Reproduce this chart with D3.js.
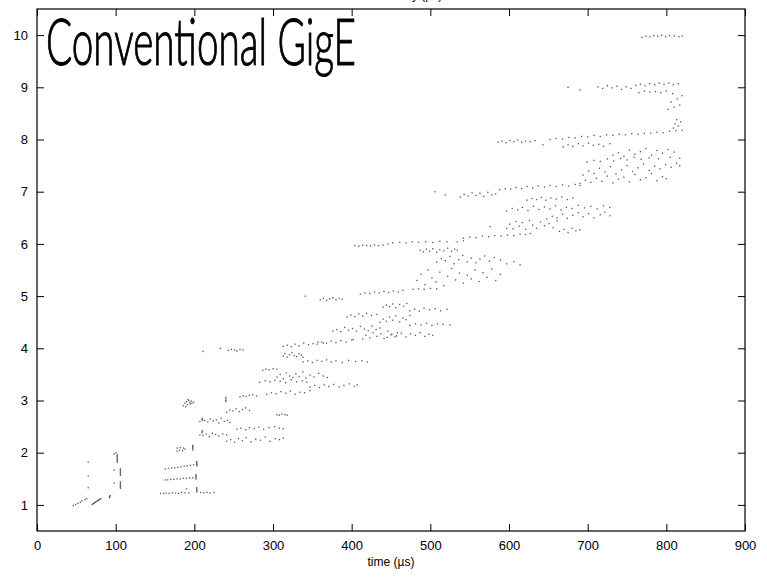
<!DOCTYPE html>
<html><head><meta charset="utf-8">
<script src="https://cdn.jsdelivr.net/npm/d3@7"></script>
<style>body{margin:0;background:#fff}svg{display:block}</style>
</head><body>
<script>
const xTicks=[0,100,200,300,400,500,600,700,800,900];
const yTicks=[1,2,3,4,5,6,7,8,9,10];
const xLabel="time (µs)";
const topLabel="latency (µs)";
const title="Conventional GigE";

const ptsA=[[46,0.99],[49,1.01],[52,1.03],[55,1.05],[57,1.08],[61,1.1],[63,1.12],
[70,1.01],[71,1.02],[72,1.03],[73,1.04],[74,1.05],[75,1.06],[76,1.07],[77,1.08],[78,1.09],[79,1.1],[80,1.11],[81,1.12],
[92,1.14],[92.5,1.16],[93,1.18],[65,1.33],[65,1.55],[65,1.82],
[98,1.98],[100.5,2.0],[102,1.96],[102,1.94],[102,1.92],[102,1.9],[102,1.88],[102,1.86],[102,1.84],[102,1.82],
[98,1.67],[106,1.69],[106,1.67],[106,1.65],[106,1.63],[106,1.61],[106,1.59],[106,1.57],
[98,1.42],[106,1.44],[106,1.42],[106,1.4],[106,1.38],[106,1.36],[106,1.34],[106,1.32]];

const ptsB=[[157,1.22],[161,1.22],[164,1.23],[168,1.22],[172,1.23],[176,1.23],[180,1.22],[184,1.24],[188,1.23],[193,1.23],[208,1.24],[212,1.23],[216,1.24],[220,1.23],[225,1.24],[190,1.31],
[203,1.25],[203,1.27],[203,1.29],[203,1.31],[203,1.33],
[163,1.48],[166,1.48],[170,1.49],[174,1.49],[178,1.5],[182,1.5],[186,1.51],[190,1.51],[194,1.52],[198,1.52],
[202,1.5],[202,1.52],[202,1.54],[202,1.56],[202,1.58],
[163,1.69],[167,1.7],[171,1.71],[175,1.71],[179,1.72],[183,1.73],[187,1.74],[191,1.75],[195,1.76],[199,1.77],
[203,1.75],[203,1.77],[203,1.79],[203,1.81],[203,1.83],
[178,2.03],[181,2.05],[185,2.04],[188,2.07],[198,2.05],[198,2.08],[198,2.1],[198,2.12]];

const ptsC=[[186,2.9],[188,2.95],[190,2.98],[191,2.92],[193,3.0],[194,2.96],[195,2.93],[196,2.99],[197,2.95],[199,2.97],[192,3.02],[189,2.88],
[240,2.98],[240,3.0],[240,3.03],[240,3.06],
[258,3.07],[262,3.09],[266,3.08],[270,3.1],[274,3.11],[279,3.09],
[210,2.62],[210,2.64],[210,2.66],[207,2.6],[213,2.62],[217,2.59],[220,2.65],[224,2.61],[228,2.63],[231,2.57],[234,2.66],[238,2.6],[242,2.62],[245,2.58],
[241,2.78],[245,2.82],[249,2.8],[253,2.84],[257,2.79],[261,2.83],[265,2.86],[270,2.81],
[305,2.73],[308,2.72],[311,2.74],[315,2.73],[318,2.72],
[254,2.45],[259,2.47],[265,2.44],[270,2.48],[276,2.46],[282,2.49],[288,2.45],[295,2.48],[302,2.5],[308,2.47],[313,2.46],
[210,2.38],[210,2.4],[210,2.42],[207,2.34],[211,2.33],[215,2.36],[219,2.31],[223,2.37],[227,2.35],[231,2.32],[236,2.36],[241,2.34],
[241,2.22],[246,2.25],[251,2.2],[256,2.27],[261,2.23],[266,2.29],[272,2.21],[278,2.26],[284,2.24],[290,2.3],[296,2.22],[303,2.27],[308,2.25],[313,2.28],
[198,2.14],[178,2.09],[182,2.1],[186,2.09]];

const ptsD=[[211,3.94],[233,4.0],[243,3.96],[247,3.98],[251,3.97],[254,3.95],[258,3.98],[262,3.97],
[287,3.58],[291,3.6],[295,3.59],[300,3.61],[305,3.6],
[313,3.85],[315,3.9],[318,3.83],[321,3.88],[324,3.92],[327,3.86],[330,3.84],[333,3.9],[336,3.87],[338,3.83],
[313,4.04],[318,4.06],[323,4.03],[328,4.08],[333,4.05],[339,4.1],[345,4.07],[351,4.09],[357,4.12],[364,4.1],
[338,3.74],[344,3.76],[350,3.73],[356,3.77],[362,3.75],[368,3.78],[374,3.74],[380,3.76],[388,3.73],[396,3.77],[405,3.75],[413,3.76],[420,3.74],
[283,3.35],[290,3.38],[296,3.36],[302,3.39],[309,3.37],[316,3.34],[323,3.4],[330,3.36],[337,3.38],[343,3.35],
[305,3.45],[309,3.5],[313,3.42],[317,3.53],[321,3.47],[325,3.44],[329,3.51],[333,3.46],[338,3.55],[342,3.43],[347,3.49],[352,3.45],[358,3.52],[364,3.47],[369,3.44],
[292,3.12],[298,3.15],[304,3.13],[310,3.17],[316,3.14],[322,3.18],[328,3.12],[334,3.16],[340,3.15],[347,3.19],
[347,3.26],[353,3.29],[359,3.25],[365,3.3],[371,3.27],[377,3.31],[384,3.26],[390,3.29],[397,3.32],[403,3.27],[407,3.3]];

const ptsE=[[356,4.08],[362,4.12],[368,4.1],[374,4.14],[380,4.11],[386,4.15],[393,4.12],[400,4.16],[402,4.17],
[376,4.33],[381,4.36],[386,4.32],[391,4.4],[396,4.35],[401,4.38],[406,4.33],[411,4.42],[416,4.37],[421,4.34],[426,4.43],[431,4.36],[436,4.39],
[414,4.18],[418,4.25],[423,4.2],[427,4.3],[432,4.23],[437,4.28],[441,4.19],[446,4.33],[450,4.26],[455,4.22],[458,4.3],
[445,4.21],[451,4.27],[457,4.24],[463,4.29],[469,4.22],[475,4.28],[481,4.25],[487,4.3],[493,4.23],[498,4.27],[503,4.25],
[474,4.44],[481,4.47],[488,4.45],[495,4.48],[502,4.44],[509,4.47],[516,4.46],[525,4.45],
[436,4.5],[440,4.56],[444,4.52],[448,4.6],[452,4.54],[456,4.62],[461,4.51],[465,4.58],[469,4.55],[474,4.63],
[394,4.6],[399,4.64],[404,4.61],[409,4.66],[414,4.62],[419,4.67],[425,4.63],[432,4.65],
[440,4.79],[444,4.83],[448,4.8],[452,4.85],[456,4.78],[461,4.84],[466,4.81],[470,4.86],
[474,4.72],[480,4.75],[486,4.71],[492,4.77],[499,4.74],[506,4.76],[513,4.72],[521,4.75],
[341,5.0],[360,4.93],[364,4.96],[368,4.92],[372,4.95],[376,4.97],[380,4.93],[384,4.96],[388,4.94],
[411,5.04],[417,5.06],[423,5.05],[429,5.08],[435,5.06],[441,5.09],[447,5.07],[453,5.1],[459,5.08],[465,5.11],
[478,5.13],[485,5.14],[492,5.13],[500,5.15],[508,5.14]];

const ptsF=[[404,5.97],[409,5.96],[414,5.98],[419,5.97],[424,5.96],[429,5.98],[434,5.97],[440,5.98],
[446,6.0],[452,6.02],[461,6.03],[469,6.02],[477,6.04],[485,6.03],[494,6.04],[503,6.03],[512,6.05],[521,6.04],[534,6.04],[542,6.06],
[542,6.11],[550,6.13],[558,6.12],[566,6.15],[574,6.14],[582,6.16],[590,6.15],[598,6.17],[606,6.16],[614,6.19],[621,6.18],[627,6.2],[576,6.33],
[487,5.88],[491,5.85],[495,5.9],[499,5.86],[503,5.91],[508,5.84],[512,5.89],[517,5.87],[522,5.92],[527,5.86],[531,5.9],[534,5.88],
[508,5.65],[514,5.72],[519,5.68],[525,5.76],[530,5.62],[536,5.7],[541,5.78],[547,5.66],[552,5.73],[558,5.64],[563,5.71],[569,5.77],[575,5.67],[581,5.74],[589,5.69],[597,5.62],[606,5.66],[614,5.6],
[483,5.3],[488,5.42],[493,5.22],[497,5.5],[502,5.35],[507,5.27],[512,5.46],[517,5.2],[522,5.38],[527,5.53],[532,5.31],[537,5.44],[542,5.25],[547,5.4],[552,5.33],[557,5.5],[562,5.28],[567,5.45],[572,5.36],[578,5.52],[583,5.3],[589,5.42]];

const ptsG=[[597,6.3],[601,6.38],[605,6.29],[609,6.43],[613,6.34],[617,6.41],[621,6.28],[626,6.45],[630,6.36],[635,6.3],[640,6.42],[645,6.35],[651,6.39],[656,6.31],[661,6.44],
[664,6.24],[670,6.28],[675,6.22],[680,6.3],[685,6.25],[690,6.27],
[648,6.48],[655,6.53],[661,6.5],[668,6.57],[674,6.49],[681,6.55],[688,6.6],[694,6.52],[701,6.58],[708,6.5],[716,6.56],[722,6.61],[728,6.54],
[597,6.63],[604,6.68],[611,6.65],[617,6.7],[624,6.64],[631,6.72],[638,6.66],[645,6.71],[652,6.67],[659,6.73],[666,6.65],[673,6.7],[680,6.68],[688,6.74],[696,6.69],[704,6.72],[712,6.67],[720,6.73],[728,6.7],
[623,6.84],[629,6.87],[635,6.85],[641,6.89],[647,6.84],[653,6.88],[660,6.86],[667,6.9],[674,6.85],[681,6.88],
[506,7.0],[519,6.94],[538,6.9],[543,6.95],[548,6.92],[553,6.98],[558,6.93],[563,6.97],[568,6.91],[573,6.99],[578,6.94],[583,6.96],
[588,7.04],[595,7.06],[602,7.05],[609,7.08],[616,7.06],[623,7.1],[630,7.07],[637,7.11],[645,7.09],[652,7.12],[660,7.1],[668,7.13],[676,7.11],[684,7.14],[690,7.12]];

const ptsH=[[690,7.16],[697,7.22],[704,7.18],[711,7.26],[718,7.2],[725,7.3],[732,7.17],[739,7.24],[746,7.28],[753,7.19],[760,7.33],[767,7.23],[774,7.27],[781,7.35],[788,7.21],[795,7.29],[800,7.25],
[694,7.32],[701,7.4],[708,7.35],[715,7.45],[722,7.38],[729,7.48],[736,7.34],[743,7.42],[750,7.5],[757,7.39],[764,7.46],[771,7.53],[778,7.41],[785,7.49],[792,7.44],[799,7.52],[806,7.47],[813,7.55],[817,7.5],
[699,7.57],[708,7.6],[716,7.58],[725,7.63],[733,7.59],[742,7.64],[750,7.61],[759,7.66],[768,7.62],[778,7.65],[790,7.63],[805,7.66],[817,7.64],
[732,7.7],[739,7.75],[746,7.68],[753,7.8],[760,7.72],[767,7.77],[774,7.83],[781,7.7],[788,7.79],[795,7.74],[802,7.81],[810,7.76],
[669,7.86],[675,7.9],[681,7.87],[688,7.92],[694,7.88],[701,7.93],[707,7.89],[714,7.91],[720,7.87],[728,7.92],
[586,7.95],[591,7.97],[596,7.94],[601,7.98],[606,7.96],[611,7.99],[616,7.95],[621,7.97],[627,7.96],[633,7.98],[643,7.9],
[652,8.0],[660,8.02],[668,8.01],[676,8.04],[684,8.03],[692,8.06],[700,8.05],[708,8.08],[716,8.06],[724,8.09],[732,8.08],[740,8.1],[748,8.09],[756,8.11],[764,8.1],[772,8.12],[780,8.12],[788,8.14],[796,8.13],[804,8.16],[812,8.17],[820,8.18],
[809,8.22],[815,8.26],[811,8.3],[818,8.34],[813,8.38],
[802,8.58],[810,8.62],[817,8.66],[806,8.72],[814,8.78],[820,8.84],[808,8.88]];

const ptsI=[[675,9.0],[690,8.95],
[713,9.01],[719,8.98],[725,9.03],[731,8.99],[737,9.02],[743,8.96],[749,9.01],[755,8.98],[761,9.04],[767,9.06],[773,9.03],[779,9.07],[785,9.05],[791,9.08],[797,9.06],[803,9.08],[809,9.05],[815,9.07],
[765,8.9],[772,8.93],[779,8.91],[786,8.92],[793,8.9],[800,8.93],
[769,9.96],[774,9.98],[779,9.97],[784,9.99],[789,9.98],[794,10.0],[799,9.97],[804,9.99],[810,9.98],[816,9.97],[820,9.98]];

const allPts=[].concat(ptsA,ptsB,ptsC,ptsD,ptsE,ptsF,ptsG,ptsH,ptsI);

const W=767,H=581;
const L=37,R=745,T=9,B=531;
const svg=d3.select("body").append("svg").attr("width",W).attr("height",H);
const x=d3.scaleLinear().domain([0,900]).range([L,R]);
const y=d3.scaleLinear().domain([0.5,10.5]).range([B,T]);
const tickLen=7;
const font="'Liberation Sans',Arial,sans-serif";

// points
svg.append("g").selectAll("rect").data(allPts).join("rect")
  .attr("x",d=>x(d[0])-0.6).attr("y",d=>y(d[1])-0.6)
  .attr("width",1.3).attr("height",1.3).attr("fill","#555");

// axes
const gx=svg.append("g").attr("transform",`translate(0,${B})`)
  .call(d3.axisBottom(x).tickValues(xTicks).tickSizeInner(-tickLen).tickSizeOuter(0).tickPadding(10));
const gxt=svg.append("g").attr("transform",`translate(0,${T})`)
  .call(d3.axisTop(x).tickValues(xTicks).tickSizeInner(-tickLen).tickSizeOuter(0).tickFormat(""));
const gy=svg.append("g").attr("transform",`translate(${L},0)`)
  .call(d3.axisLeft(y).tickValues(yTicks).tickSizeInner(-tickLen).tickSizeOuter(0).tickPadding(9));
const gyr=svg.append("g").attr("transform",`translate(${R},0)`)
  .call(d3.axisRight(y).tickValues(yTicks).tickSizeInner(-tickLen).tickSizeOuter(0).tickFormat(""));
[gx,gxt,gy,gyr].forEach(g=>{
  g.select(".domain").remove();
  g.selectAll("line").attr("stroke","#000").attr("stroke-width",1);
  g.selectAll("text").attr("font-family",font).attr("font-size",13).attr("fill","#000");
});
svg.append("rect").attr("x",L).attr("y",T).attr("width",R-L).attr("height",B-T)
  .attr("fill","none").attr("stroke","#000").attr("stroke-width",1.2);

svg.append("text").attr("x",(L+R)/2).attr("y",566).attr("text-anchor","middle")
  .attr("font-family",font).attr("font-size",12).text(xLabel);
svg.append("text").attr("x",(L+R)/2+20).attr("y",-1).attr("text-anchor","middle")
  .attr("font-family",font).attr("font-size",12).text(topLabel);

svg.append("text").attr("transform","translate(46,65) scale(1,1.25)")
  .attr("x",0).attr("y",0)
  .attr("font-family","Lato,'Noto Sans',sans-serif").attr("font-weight",300).attr("font-size",52)
  .attr("stroke","#000").attr("stroke-width",0.9)
  .attr("textLength",310).attr("lengthAdjust","spacingAndGlyphs").text(title);
</script>
</body></html>
